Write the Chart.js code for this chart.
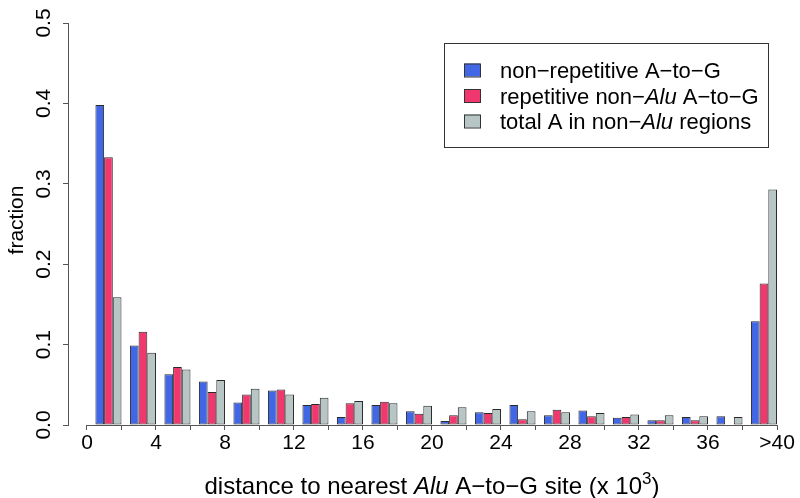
<!DOCTYPE html>
<html lang="en">
<head>
<meta charset="UTF-8">
<title>Distance to nearest Alu A-to-G site</title>
<script src="https://cdn.jsdelivr.net/npm/chart.js@4/dist/chart.umd.min.js"></script>
<style>
  body { margin: 0; background: #fff; }
  canvas { display: block; }
</style>
</head>
<body>
<canvas id="chart" width="800" height="498"></canvas>
<script>
// bins of 2 x 10^3 nt, identified by their upper end; the last one is ">40"
const binEnds = [2, 4, 6, 8, 10, 12, 14, 16, 18, 20, 22, 24, 26, 28, 30, 32, 34, 36, 38, 40];

const nonRepetitive    = [0.398, 0.099, 0.063, 0.054, 0.028, 0.043, 0.025, 0.010, 0.025, 0.017,
                          0.005, 0.016, 0.025, 0.012, 0.018, 0.009, 0.006, 0.010, 0.011, 0.129];
const repetitiveNonAlu = [0.333, 0.116, 0.072, 0.041, 0.038, 0.044, 0.026, 0.027, 0.029, 0.014,
                          0.012, 0.015, 0.007, 0.019, 0.011, 0.010, 0.006, 0.006, 0.000, 0.176];
const totalA           = [0.159, 0.090, 0.069, 0.056, 0.045, 0.038, 0.034, 0.030, 0.027, 0.024,
                          0.022, 0.020, 0.017, 0.016, 0.015, 0.013, 0.012, 0.011, 0.010, 0.293];

const xTickValues = [0, 4, 8, 12, 16, 20, 24, 28, 32, 36, 40];
const xTickText   = ['0', '4', '8', '12', '16', '20', '24', '28', '32', '36', '>40'];
const yTickValues = [0, 0.1, 0.2, 0.3, 0.4, 0.5];
const yTickText   = ['0.0', '0.1', '0.2', '0.3', '0.4', '0.5'];

// '*' toggles italic, '^' toggles superscript
const seriesLabels = ['non−repetitive A−to−G', 'repetitive non−*Alu* A−to−G', 'total A in non−*Alu* regions'];
const xTitle = 'distance to nearest *Alu* A−to−G site (x 10^3^)';
const yTitle = 'fraction';

const colors = ['#4267e6', '#f0386f', '#b7c5c5'];
const FONT = '"Liberation Sans", Arial, Helvetica, sans-serif';
const AXIS = '#555';

function parseRich(str) {
    const parts = [];
    let it = false, sup = false, buf = '';
    for (const ch of str) {
        if (ch === '*' || ch === '^') {
            if (buf) parts.push({ t: buf, it, sup });
            buf = '';
            if (ch === '*') it = !it; else sup = !sup;
        } else buf += ch;
    }
    if (buf) parts.push({ t: buf, it, sup });
    return parts;
}

function partFont(p, size) {
    const s = p.sup ? Math.round(size * 0.72) : size;
    return (p.it ? 'italic ' : '') + s + 'px ' + FONT;
}

// draws text left-aligned (or centred) on baseline y
function drawRich(ctx, str, x, y, size, center) {
    const parts = parseRich(str);
    let w = 0;
    parts.forEach(p => { ctx.font = partFont(p, size); p.w = ctx.measureText(p.t).width; w += p.w; });
    let cx = center ? x - w / 2 : x;
    ctx.textAlign = 'left';
    ctx.textBaseline = 'alphabetic';
    parts.forEach(p => {
        ctx.font = partFont(p, size);
        ctx.fillText(p.t, cx, p.sup ? y - size * 0.42 : y);
        cx += p.w;
    });
}

const rAxes = {
    id: 'rAxes',
    afterDraw(chart) {
        const ctx = chart.ctx;
        const xs = chart.scales.x, ys = chart.scales.y;
        const area = chart.chartArea;
        ctx.save();
        ctx.fillStyle = '#000';

        // x axis line spans 0 .. >40 only
        ctx.strokeStyle = AXIS;
        ctx.lineWidth = 1;
        ctx.beginPath();
        ctx.moveTo(xs.getPixelForValue(0), area.bottom + 0.5);
        ctx.lineTo(xs.getPixelForValue(40), area.bottom + 0.5);
        ctx.stroke();

        // y tick labels, parallel to the axis
        ctx.font = '21px ' + FONT;
        ctx.textAlign = 'center';
        ctx.textBaseline = 'middle';
        yTickValues.forEach((v, i) => {
            ctx.save();
            ctx.translate(44, ys.getPixelForValue(v));
            ctx.rotate(-Math.PI / 2);
            ctx.fillText(yTickText[i], 0, 0);
            ctx.restore();
        });

        // axis titles
        ctx.save();
        ctx.translate(17, 220);
        ctx.rotate(-Math.PI / 2);
        ctx.fillText(yTitle, 0, 0);
        ctx.restore();
        drawRich(ctx, xTitle, 432, 494, 24, true);

        // legend
        const lx = 444, ly = 43, lw = 324, lh = 104;
        ctx.fillStyle = '#fff';
        ctx.fillRect(lx, ly, lw, lh);
        ctx.strokeStyle = '#333';
        ctx.strokeRect(lx + 0.5, ly + 0.5, lw, lh);
        chart.data.datasets.forEach((ds, i) => {
            const ry = 70 + i * 25.5;
            ctx.fillStyle = ds.backgroundColor;
            ctx.fillRect(464, ry - 6.5, 16, 13);
            ctx.strokeStyle = '#333';
            ctx.strokeRect(464.5, ry - 6, 16, 13);
            ctx.fillStyle = '#000';
            drawRich(ctx, ds.label, 500, ry + 8, 22, false);
        });
        ctx.restore();
    }
};

const datasets = [nonRepetitive, repetitiveNonAlu, totalA].map((vals, i) => ({
    label: seriesLabels[i],
    data: binEnds.map((b, j) => ({ x: b - 0.755, y: vals[j] })),
    backgroundColor: colors[i],
    borderColor: '#2a2a2a',
    borderWidth: 1,
    borderSkipped: false,
    categoryPercentage: 0.755,
    barPercentage: 1.0
}));

new Chart(document.getElementById('chart'), {
    type: 'bar',
    data: { datasets },
    options: {
        responsive: false,
        animation: false,
        devicePixelRatio: 1,
        layout: { padding: { top: 23, right: 23, left: 0, bottom: 0 } },
        plugins: { legend: { display: false }, tooltip: { enabled: false } },
        scales: {
            x: {
                type: 'linear',
                offset: false,
                min: -1.1,
                max: 40,
                afterFit: s => { s.height = 73; },
                border: { display: false },
                grid: { offset: false, drawOnChartArea: false, drawTicks: true, tickLength: 5, color: AXIS },
                ticks: {
                    stepSize: 2,
                    includeBounds: false,
                    autoSkip: false,
                    maxRotation: 0,
                    padding: 1,
                    color: '#000',
                    font: { family: FONT, size: 21 },
                    callback: v => {
                        const k = xTickValues.indexOf(v);
                        return k >= 0 ? xTickText[k] : '';
                    }
                }
            },
            y: {
                min: 0,
                max: 0.5,
                afterFit: s => { s.width = 68; },
                border: { display: true, color: AXIS, width: 1 },
                grid: { drawOnChartArea: false, drawTicks: true, tickLength: 5, color: AXIS },
                ticks: { stepSize: 0.1, display: false }
            }
        }
    },
    plugins: [rAxes]
});
</script>
</body>
</html>
